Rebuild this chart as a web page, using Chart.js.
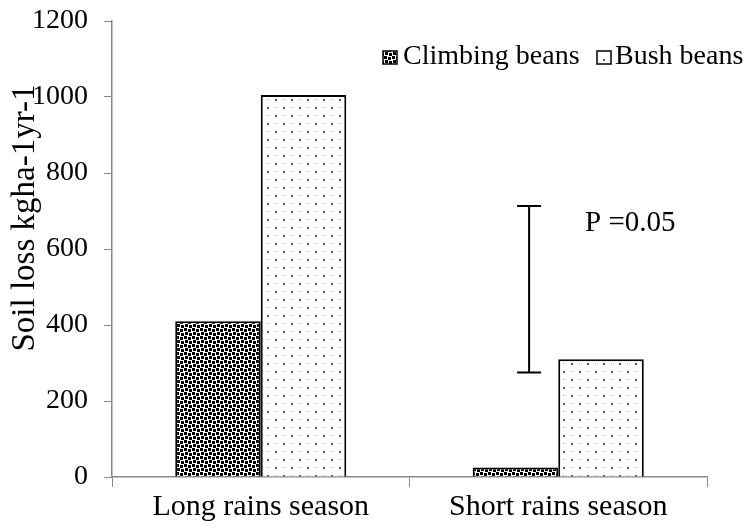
<!DOCTYPE html>
<html><head><meta charset="utf-8">
<script src="https://cdn.jsdelivr.net/npm/chart.js@4/dist/chart.umd.min.js"></script>
<style>html,body{margin:0;padding:0;background:#fff}#wrap{width:745px;height:531px}</style>
</head><body><div id="wrap"><canvas id="c" width="745" height="531"></canvas></div>
<script>
const categories = ["Long rains season", "Short rains season"];
const climbingBeans = [410, 25];
const bushBeans = [1005, 310];
const seriesNames = ["Climbing beans", "Bush beans"];
const yTicks = [0, 200, 400, 600, 800, 1000, 1200];
const errorBarRange = [275, 713];
const annotationText = "P =0.05";
const yTitle = "Soil loss kgha-1yr-1";

const FONT = "'Liberation Serif','Times New Roman',serif";

function makePattern(kind) {
  const t = document.createElement('canvas');
  const g = t.getContext('2d');
  if (kind === 'dense') {
    t.width = 8; t.height = 8;
    g.fillStyle = '#fff'; g.fillRect(0, 0, 8, 8);
    g.fillStyle = '#000';
    g.fillRect(0, 0, 3, 3); g.fillRect(4, 1, 3, 3);
    g.fillRect(1, 4, 3, 3); g.fillRect(5, 5, 3, 3);
  } else {
    t.width = 16; t.height = 16;
    g.fillStyle = '#fff'; g.fillRect(0, 0, 16, 16);
    g.fillStyle = '#555';
    g.fillRect(3, 3, 2, 2); g.fillRect(11, 11, 2, 2);
    g.fillStyle = '#999';
    g.fillRect(11, 3, 1, 1); g.fillRect(3, 11, 1, 1);
  }
  return g.createPattern(t, 'repeat');
}
const densePat = makePattern('dense');
const sparsePat = makePattern('sparse');

const overlay = {
  id: 'overlay',
  afterDatasetsDraw(chart) {
    const ctx = chart.ctx, x = chart.scales.x, y = chart.scales.y;
    const catW = x.getPixelForValue(1) - x.getPixelForValue(0);
    // error bar
    const ex = x.getPixelForValue(1) - 0.098 * catW;
    const y1 = y.getPixelForValue(errorBarRange[0]);
    const y2 = y.getPixelForValue(errorBarRange[1]);
    ctx.save();
    ctx.strokeStyle = '#000'; ctx.lineWidth = 2;
    ctx.beginPath();
    ctx.moveTo(ex, y1); ctx.lineTo(ex, y2);
    ctx.moveTo(ex - 12, y1); ctx.lineTo(ex + 12, y1);
    ctx.moveTo(ex - 12, y2); ctx.lineTo(ex + 12, y2);
    ctx.stroke();
    // annotation
    ctx.fillStyle = '#000';
    ctx.font = '29px ' + FONT;
    ctx.textAlign = 'left'; ctx.textBaseline = 'middle';
    ctx.fillText(annotationText, x.getPixelForValue(1) + 0.09 * catW, y.getPixelForValue(668));
    // y title
    ctx.save();
    ctx.translate(25, 218);
    ctx.rotate(-Math.PI / 2);
    ctx.textAlign = 'center'; ctx.textBaseline = 'middle';
    ctx.font = '33px ' + FONT;
    ctx.fillText(yTitle, 0, 0);
    ctx.restore();
    // legend
    const items = [
      {label: seriesNames[0], fill: densePat, bx: 383, tx: 403},
      {label: seriesNames[1], fill: sparsePat, bx: 597, tx: 615}
    ];
    ctx.font = '28px ' + FONT;
    items.forEach(it => {
      ctx.fillStyle = it.fill;
      ctx.fillRect(it.bx, 51, 14, 13);
      ctx.strokeStyle = '#000'; ctx.lineWidth = 1.5;
      ctx.strokeRect(it.bx, 51, 14, 13);
      ctx.fillStyle = '#000';
      ctx.textAlign = 'left'; ctx.textBaseline = 'middle';
      ctx.fillText(it.label, it.tx, 57);
    });
    ctx.restore();
  }
};

new Chart(document.getElementById('c'), {
  type: 'bar',
  data: {
    labels: categories,
    datasets: [
      {label: seriesNames[0], data: climbingBeans, backgroundColor: densePat, borderColor: '#000', borderWidth: 2, borderSkipped: 'bottom'},
      {label: seriesNames[1], data: bushBeans, backgroundColor: sparsePat, borderColor: '#000', borderWidth: 2, borderSkipped: 'bottom'}
    ]
  },
  options: {
    responsive: false,
    animation: false,
    devicePixelRatio: 1,
    layout: {padding: {top: 21, right: 38, left: 0, bottom: 0}},
    datasets: {bar: {categoryPercentage: 0.575, barPercentage: 1.0}},
    plugins: {legend: {display: false}, tooltip: {enabled: false}},
    scales: {
      x: {
        offset: true,
        grid: {display: true, drawOnChartArea: false, drawTicks: true, tickLength: 10, color: '#888', offset: true},
        border: {display: true, color: '#888', width: 1.5},
        ticks: {color: '#000', font: {family: FONT, size: 30}, padding: 2},
        afterFit(s) { s.height = 54; s.paddingLeft = 0; s.paddingRight = 0; }
      },
      y: {
        min: 0, max: 1200,
        afterBuildTicks(s) { s.ticks = yTicks.map(v => ({value: v})); },
        grid: {display: true, drawOnChartArea: false, drawTicks: true, tickLength: 8, color: '#888'},
        border: {display: true, color: '#888', width: 1.5},
        ticks: {color: '#000', font: {family: FONT, size: 28}, padding: 16, callback: v => String(v)},
        afterFit(s) { s.width = 112; s.paddingTop = 0; s.paddingBottom = 0; }
      }
    }
  },
  plugins: [overlay]
});
</script>
</body></html>
